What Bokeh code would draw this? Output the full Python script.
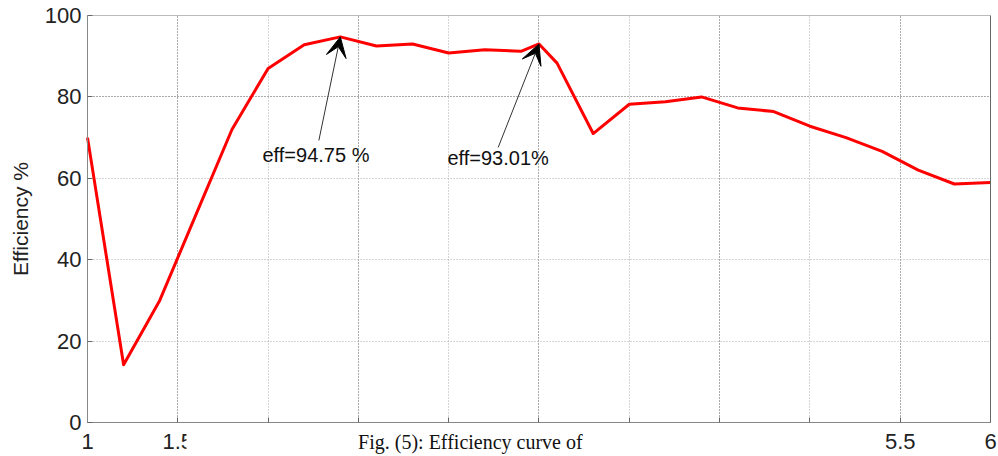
from bokeh.plotting import figure
from bokeh.models import (Range1d, FixedTicker, Grid, Arrow, VeeHead, Label,
                          BoxAnnotation, NumeralTickFormatter, LinearAxis)
from bokeh.embed import file_html
from bokeh.resources import INLINE

# Efficiency curve samples
load = [1.0, 1.2, 1.4, 1.6, 1.8, 2.0, 2.2, 2.4, 2.6, 2.8, 3.0, 3.2, 3.4, 3.5,
        3.6, 3.8, 4.0, 4.2, 4.4, 4.6, 4.8, 5.0, 5.2, 5.4, 5.6, 5.8, 6.0]
efficiency = [70.0, 14.2, 30.0, 51.0, 72.0, 87.0, 92.8, 94.75, 92.5, 93.0, 90.8,
              91.6, 91.2, 93.01, 88.3, 71.0, 78.2, 78.8, 80.0, 77.3, 76.4, 72.8,
              70.0, 66.6, 62.0, 58.6, 59.0]

x_ticks = [1, 1.5, 2, 2.5, 3, 3.5, 4, 4.5, 5, 5.5, 6]
y_ticks = [0, 20, 40, 60, 80, 100]

# indices of the two annotated peaks
peak_a = 7
peak_b = 13

FONT = "Liberation Sans"

# The frame fills the whole canvas; the axes are pinned at the edges of the
# data box so labels and the caption strip can be drawn around it.
p = figure(width=998, height=456,
           x_range=Range1d(0.5183, 6.0443), y_range=Range1d(-8.35, 103.69),
           output_backend="svg", toolbar_location=None,
           x_axis_location=None, y_axis_location=None)
p.min_border = 0
p.background_fill_color = "white"
p.border_fill_color = "white"
p.outline_line_color = None

# dotted grid, darker and lighter lines, kept inside the data box
p.xgrid.ticker = FixedTicker(ticks=[1.5, 2.5, 3.5, 4.5, 5.5])
p.xgrid.grid_line_color = "#555555"
p.xgrid.grid_line_dash = "1 2"
p.xgrid.cross_bounds = (0, 100)
p.ygrid.ticker = FixedTicker(ticks=[80])
p.ygrid.grid_line_color = "#555555"
p.ygrid.grid_line_dash = "1 2"
p.ygrid.cross_bounds = (1, 6)
p.add_layout(Grid(dimension=0, ticker=FixedTicker(ticks=[2, 3, 4, 5]), cross_bounds=(0, 100),
                  grid_line_color="#aaaaaa", grid_line_dash="1 2"))
p.add_layout(Grid(dimension=1, ticker=FixedTicker(ticks=[20, 40, 60]), cross_bounds=(1, 6),
                  grid_line_color="#aaaaaa", grid_line_dash="1 2"))

# axes
xaxis = LinearAxis(fixed_location=0, bounds=(1, 6), ticker=FixedTicker(ticks=x_ticks),
                   formatter=NumeralTickFormatter(format="0.[0]"))
yaxis = LinearAxis(fixed_location=1, bounds=(0, 100), ticker=FixedTicker(ticks=y_ticks),
                   axis_label="Efficiency %")
p.add_layout(xaxis, "below")
p.add_layout(yaxis, "left")
for ax in (xaxis, yaxis):
    ax.axis_line_color = "#888888"
    ax.major_tick_in = 5
    ax.major_tick_out = 0
    ax.major_tick_line_color = "#666666"
    ax.minor_tick_line_color = None
    ax.major_label_text_font = FONT
    ax.major_label_text_font_size = "22px"
    ax.major_label_text_color = "#222222"
xaxis.major_label_standoff = 11
yaxis.major_label_standoff = 6
yaxis.axis_label_text_font = FONT
yaxis.axis_label_text_font_size = "21px"
yaxis.axis_label_text_font_style = "normal"
yaxis.axis_label_text_color = "#222222"
yaxis.axis_label_standoff = 10

# box edges on the top and right
p.add_layout(LinearAxis(fixed_location=100, bounds=(1, 6), ticker=FixedTicker(ticks=[]),
                        axis_line_color="#bbbbbb"), "above")
p.add_layout(LinearAxis(fixed_location=6, bounds=(0, 100), ticker=FixedTicker(ticks=[]),
                        axis_line_color="#666666"), "right")

# efficiency curve
p.line(load, efficiency, line_color="#ff0000", line_width=3, line_join="round")

# peak annotations
p.add_layout(Arrow(end=VeeHead(size=20, fill_color="black", line_color="black"),
                   x_start=2.281, y_start=69.3,
                   x_end=load[peak_a], y_end=efficiency[peak_a],
                   line_color="#333333", line_width=1))
p.add_layout(Arrow(end=VeeHead(size=20, fill_color="black", line_color="black"),
                   x_start=3.274, y_start=67.6,
                   x_end=load[peak_b], y_end=efficiency[peak_b],
                   line_color="#333333", line_width=1))
p.add_layout(Label(x=1.969, y=63.1, text=f"eff={efficiency[peak_a]} %",
                   text_font=FONT, text_font_size="20px", text_color="#111111"))
p.add_layout(Label(x=2.993, y=62.4, text=f"eff={efficiency[peak_b]}%",
                   text_font=FONT, text_font_size="20px", text_color="#111111"))

# figure caption strip below the axis
p.add_layout(BoxAnnotation(left=1.548, right=5.36, top=-2.4,
                           fill_color="white", fill_alpha=1.0, line_color=None))
p.add_layout(Label(x=3.12, y=-7.4, text="Fig. (5): Efficiency curve of",
                   text_align="center", text_font="Liberation Serif",
                   text_font_size="20px", text_color="#111111"))

open("out.html", "w").write(file_html(p, INLINE))
